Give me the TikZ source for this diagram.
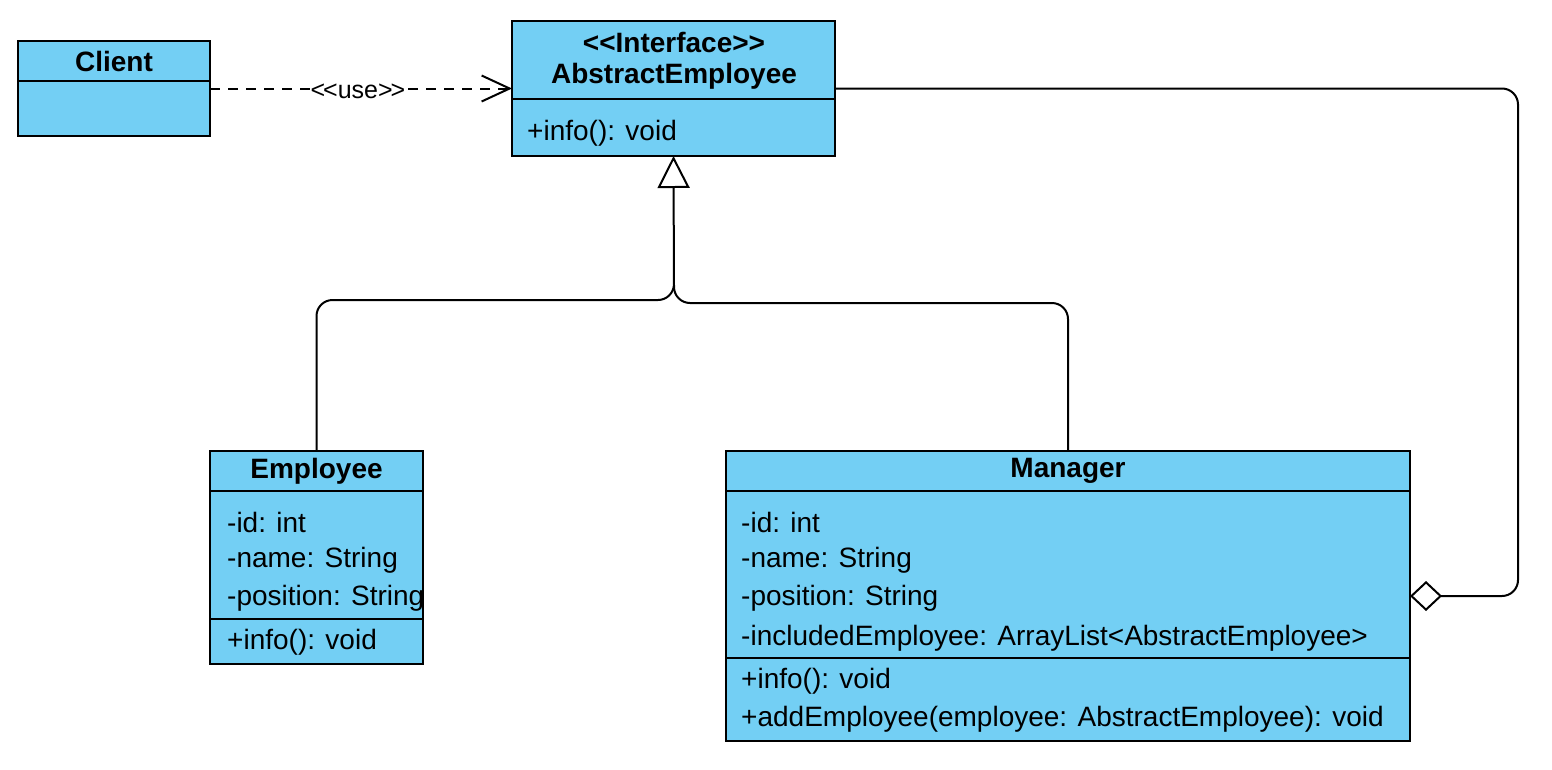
\documentclass[tikz,border=0pt]{standalone}
\usepackage{fontspec}
\setmainfont{Liberation Sans}
\usetikzlibrary{arrows.meta}
\definecolor{umlblue}{RGB}{115,207,244}
\tikzset{
  box/.style={draw=black, fill=umlblue, line width=2pt, anchor=north west, inner sep=0pt, outer sep=0pt},
  txt/.style={font=\fontsize{28}{33}\selectfont, inner sep=0pt, anchor=west, yshift=-2pt},
  hdr/.style={font=\fontsize{28}{33}\selectfont\bfseries, inner sep=0pt, yshift=-2pt},
  conn/.style={line width=2pt, rounded corners=16pt},
  divider/.style={line width=2pt}
}
\begin{document}
\begin{tikzpicture}[x=1pt,y=-1pt]
\useasboundingbox (0,0) rectangle (1552,769);
% Client
\node[box, minimum width=192pt, minimum height=95pt] (client) at (18,41) {};
\draw[divider] (18,81) -- (210,81);
\node[hdr] (clientT) at (114,59) {Client};
% AbstractEmployee
\node[box, minimum width=323pt, minimum height=135pt] (abs) at (512,21) {};
\draw[divider] (512,99) -- (835,99);
\node[hdr] (absS) at (674,40) {<\kern0pt<Interface>\kern0pt>};
\node[hdr] (absT) at (674,74) {AbstractEmployee};
\node[txt] (absM) at (527,131) {+info(): void};
% Employee
\node[box, minimum width=213pt, minimum height=213pt] (emp) at (210,451) {};
\draw[divider] (210,491) -- (423,491);
\draw[divider] (210,619) -- (423,619);
\node[hdr] (empT) at (316.5,469) {Employee};
\node[txt] (empA1) at (227,520) {-id: int};
\node[txt] (empA2) at (227,558) {-name: String};
\node[txt] (empA3) at (227,596) {-position: String};
\node[txt] (empM1) at (227,640) {+info(): void};
% Manager
\node[box, minimum width=684pt, minimum height=290pt] (mgr) at (726,451) {};
\draw[divider] (726,491) -- (1410,491);
\draw[divider] (726,658) -- (1410,658);
\node[hdr] (mgrT) at (1068,469) {Manager};
\node[txt] (mgrA1) at (741,520) {-id: int};
\node[txt] (mgrA2) at (741,558) {-name: String};
\node[txt] (mgrA3) at (741,596) {-position: String};
\node[txt] (mgrA4) at (741,636) {-includedEmployee: ArrayList<AbstractEmployee>};
\node[txt] (mgrM1) at (741,679) {+info(): void};
\node[txt] (mgrM2) at (741,717) {+addEmployee(employee: AbstractEmployee): void};
% dependency
\draw[line width=2pt, dash pattern=on 10pt off 8pt, -{Straight Barb[length=28pt,width=26pt,line width=2pt]}] (client.east) -- (abs.west)
  node[pos=0.49, fill=white, inner sep=1pt, font=\fontsize{25}{29}\selectfont, yshift=-3pt] (use) {<\kern-2pt<use>\kern-2pt>};
% generalization
\draw[conn, -{Triangle[open,length=32pt,width=32pt,fill=white]}] (emp.north) |- (674,300) -- (abs.south);
\draw[conn] (mgr.north) |- (674,303) -- (674,285);
% aggregation
\draw[conn, -{Diamond[open,length=32pt,width=30pt,fill=white]}] (abs.east) -| (1518,596) -- (mgr.east |- 0,596);
\end{tikzpicture}
\end{document}
